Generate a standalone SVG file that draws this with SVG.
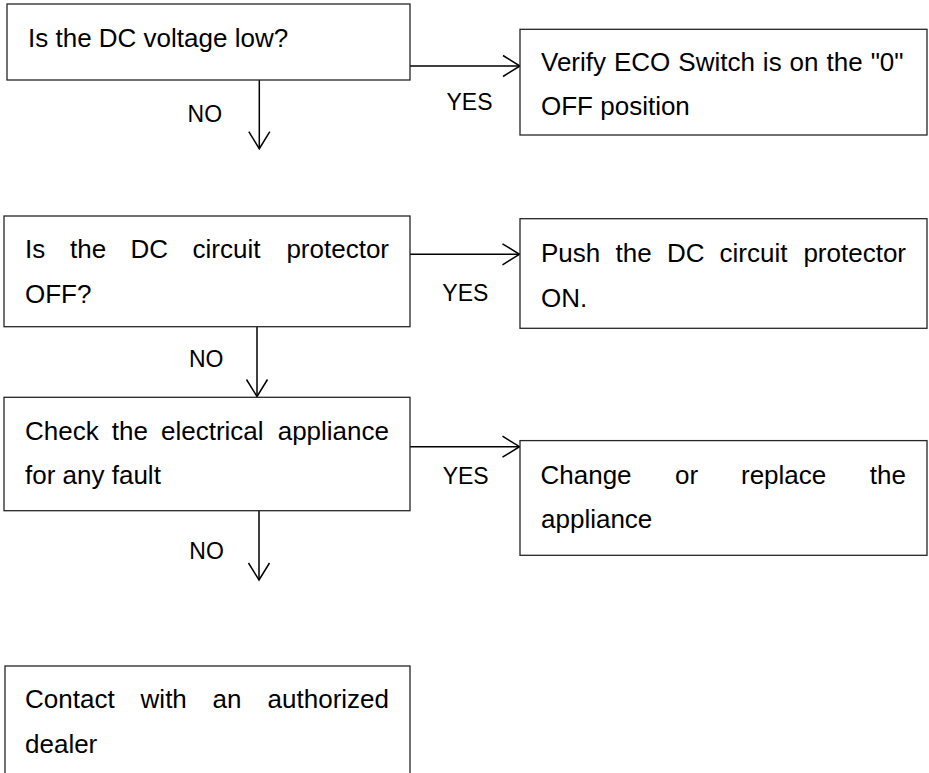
<svg xmlns="http://www.w3.org/2000/svg" width="929" height="773" viewBox="0 0 929 773">
<style>
  .box { fill: #ffffff; stroke: #262626; stroke-width: 1.3; }
  .t { font-family: "Liberation Sans", Arial, sans-serif; font-size: 26px; fill: #000; }
  .lbl { font-family: "Liberation Sans", Arial, sans-serif; font-size: 23px; fill: #000; }
  .con { stroke: #000; stroke-width: 1.5; fill: none; marker-end: url(#arr); }
</style>
<defs>
  <marker id="arr" markerUnits="userSpaceOnUse" viewBox="-19 -12 21 24" markerWidth="21" markerHeight="24" refX="0" refY="0" orient="auto">
    <path d="M-17,-10.5 L0,0 L-17,10.5" fill="none" stroke="#000" stroke-width="1.5"/>
  </marker>
</defs>
<rect width="929" height="773" fill="#ffffff"/>

<g id="connectors">
  <line class="con" x1="410" y1="66" x2="520" y2="66"/>
  <line class="con" x1="259.3" y1="80" x2="259.3" y2="148.7"/>
  <line class="con" x1="410" y1="254.3" x2="519.5" y2="254.3"/>
  <line class="con" x1="257" y1="327" x2="257" y2="396.5"/>
  <line class="con" x1="410" y1="446.7" x2="519.5" y2="446.7"/>
  <line class="con" x1="259" y1="511" x2="259" y2="580"/>
  <text class="lbl" x="446.5" y="110">YES</text>
  <text class="lbl" x="187.6" y="121.7">NO</text>
  <text class="lbl" x="442.3" y="300.7">YES</text>
  <text class="lbl" x="189" y="367">NO</text>
  <text class="lbl" x="442.7" y="484">YES</text>
  <text class="lbl" x="189.3" y="559.3">NO</text>
</g>

<g id="node-dc-voltage">
  <rect class="box" x="7" y="4" width="403" height="76"/>
  <text class="t" x="28" y="47.3">Is the DC voltage low?</text>
</g>

<g id="node-eco-switch">
  <rect class="box" x="520" y="29.3" width="407" height="105.7"/>
  <text class="t" x="541" y="71" word-spacing="0.75">Verify ECO Switch is on the "0"</text>
  <text class="t" x="541" y="115">OFF position</text>
</g>

<g id="node-dc-protector">
  <rect class="box" x="4" y="216" width="406" height="110.7"/>
  <text class="t" y="258.3"><tspan x="25">Is</tspan><tspan x="70">the</tspan><tspan x="130.5">DC</tspan><tspan x="192.5">circuit</tspan><tspan x="389" text-anchor="end">protector</tspan></text>
  <text class="t" x="25" y="303.3">OFF?</text>
</g>

<g id="node-push-protector">
  <rect class="box" x="520" y="218.7" width="407" height="109.6"/>
  <text class="t" y="262"><tspan x="541">Push</tspan><tspan x="615.5">the</tspan><tspan x="667">DC</tspan><tspan x="719.5">circuit</tspan><tspan x="906" text-anchor="end">protector</tspan></text>
  <text class="t" x="541" y="307">ON.</text>
</g>

<g id="node-check-appliance">
  <rect class="box" x="4" y="397.3" width="406" height="113.4"/>
  <text class="t" y="440"><tspan x="25">Check</tspan><tspan x="111.8">the</tspan><tspan x="161">electrical</tspan><tspan x="389" text-anchor="end">appliance</tspan></text>
  <text class="t" x="25" y="484.3">for any fault</text>
</g>

<g id="node-replace-appliance">
  <rect class="box" x="520" y="440.6" width="407" height="114.7"/>
  <text class="t" y="483.8"><tspan x="540.5">Change</tspan><tspan x="675">or</tspan><tspan x="741">replace</tspan><tspan x="906" text-anchor="end">the</tspan></text>
  <text class="t" x="541" y="527.8">appliance</text>
</g>

<g id="node-contact-dealer">
  <rect class="box" x="5" y="666" width="405" height="130"/>
  <text class="t" y="707.7"><tspan x="25">Contact</tspan><tspan x="140.6">with</tspan><tspan x="212.5">an</tspan><tspan x="389" text-anchor="end">authorized</tspan></text>
  <text class="t" x="25" y="753.3">dealer</text>
</g>
</svg>
